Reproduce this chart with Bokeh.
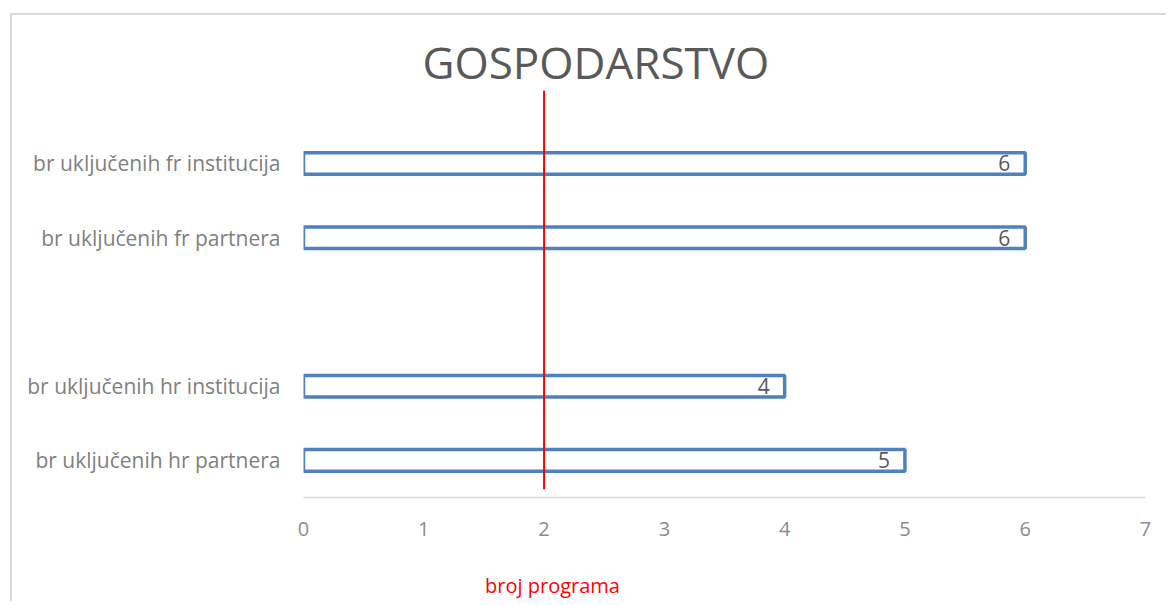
from bokeh.plotting import figure
from bokeh.models import Range1d, FixedTicker, Title, LinearAxis
from bokeh.core.properties import value
from bokeh.embed import file_html
from bokeh.resources import INLINE

# ---- data ----
categories = ["br uključenih hr partnera", "br uključenih hr institucija", "",
              "br uključenih fr partnera", "br uključenih fr institucija"]
values = [5, 4, None, 6, 6]
target = 2
x_ticks = [0, 1, 2, 3, 4, 5, 6, 7]
title_text = "GOSPODARSTVO"
x_label_text = "broj programa"

FONT = "Open Sans"
ys = [i + 1 for i, c in enumerate(categories) if c]
vals = [v for c, v in zip(categories, values) if c]
labels = [c for c in categories if c]

p = figure(width=1156, height=588, output_backend="svg", toolbar_location=None,
           x_range=Range1d(0, 7), y_range=Range1d(0.5, 6.01),
           min_border_left=291, min_border_right=23, min_border_top=73,
           min_border_bottom=106)
p.styles = {"border-left": "2px solid #d9d9d9", "border-top": "2px solid #d9d9d9",
            "margin-left": "10px", "margin-top": "13px"}
p.outline_line_color = None
p.grid.grid_line_color = None

p.hbar(y=ys, left=0, right=vals, height=0.29, fill_color="white",
       line_color="#4F81BD", line_width=3.5)
p.text(x=vals, y=ys, text=[str(v) for v in vals], x_offset=-15,
       text_align="right", text_baseline="middle", text_color="#595959",
       text_font=value(FONT), text_font_size="21px")
p.segment(x0=[target], x1=[target], y0=[0.61], y1=[5.98], line_color="#FF0000",
          line_width=2)

xa = p.xaxis[0]
xa.ticker = FixedTicker(ticks=x_ticks)
xa.axis_line_color = "#d9d9d9"
xa.axis_line_width = 1.5
xa.major_tick_line_color = None
xa.minor_tick_line_color = None
xa.major_label_text_color = "#8c8c8c"
xa.major_label_text_font = FONT
xa.major_label_text_font_size = "20px"
xa.major_label_standoff = 18

# axis title: placed left of centre (as in the original) via a label-only axis
LABEL_POS = 2.07
xlab = LinearAxis(ticker=FixedTicker(ticks=[LABEL_POS]),
                  major_label_overrides={LABEL_POS: x_label_text},
                  major_label_standoff=27,
                  major_label_text_color="#FF0000", major_label_text_font=FONT,
                  major_label_text_font_size="20px",
                  axis_line_color=None, major_tick_line_color=None,
                  minor_tick_line_color=None)
p.add_layout(xlab, "below")

ya = p.yaxis[0]
ya.ticker = FixedTicker(ticks=ys)
ya.major_label_overrides = {y: l for y, l in zip(ys, labels)}
ya.axis_line_color = None
ya.major_tick_line_color = None
ya.minor_tick_line_color = None
ya.major_label_text_color = "#7f7f7f"
ya.major_label_text_font = FONT
ya.major_label_text_font_size = "21px"
ya.major_label_standoff = 17

p.title = Title(text=title_text, align="left", offset=119,
                text_color="#595959", text_font=FONT, text_font_size="44px",
                text_font_style="normal", standoff=-7)

open("out.html", "w").write(file_html(p, INLINE))
